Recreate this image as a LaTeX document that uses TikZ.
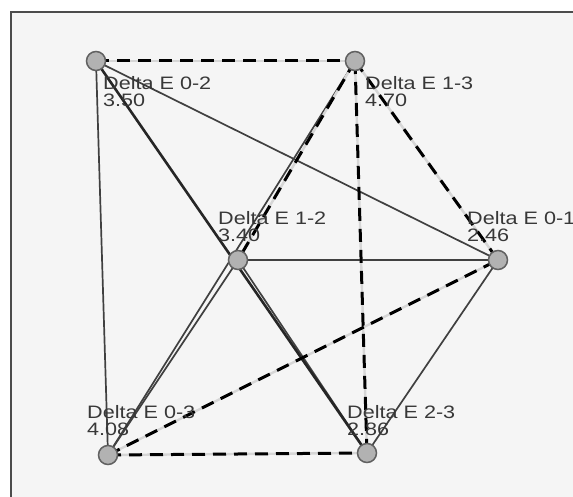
\documentclass[tikz,border=0pt]{standalone}
\usepackage{fontspec}
\setmainfont{Liberation Sans}
\newfontfamily\lblfont[FakeStretch=1.2]{Liberation Sans}
\begin{document}
\begin{tikzpicture}[x=1pt,y=-1pt,
  vert/.style={circle,fill=black!30,draw=black!62,line width=1.5pt,minimum size=19pt,inner sep=0pt},
  solidedge/.style={draw=black!75,line width=1.7pt},
  heavyedge/.style={draw=black!85,line width=2.6pt},
  dashedge/.style={draw=black!16,line width=2.4pt,postaction={draw=black,line width=3pt,dash pattern=on 13pt off 8pt}},
  lbl/.style={anchor=west,inner sep=0pt,text=black!78,align=left,font=\lblfont\fontsize{18pt}{17pt}\selectfont}]
\useasboundingbox (0,0) rectangle (573,497);
\fill[white] (0,0) rectangle (573,497);
\begin{scope}
\clip (0,0) rectangle (573,497);
\draw[fill=black!4,draw=black!70,line width=2pt] (11,12) rectangle (620,540);
\end{scope}
\coordinate (p0) at (96,61);
\coordinate (p1) at (355,61);
\coordinate (p2) at (238,260);
\coordinate (p3) at (498,260);
\coordinate (p4) at (108,455);
\coordinate (p5) at (367,453);
% solid edges
\draw[solidedge] (p0) -- (p4);
\draw[solidedge] (p0) -- (p3);
\draw[solidedge] (p1) -- (p4);
\draw[solidedge] (p2) -- (p3);
\draw[solidedge] (p2) -- (p4);
\draw[solidedge] (p2) -- (p5);
\draw[solidedge] (p3) -- (p5);
\draw[heavyedge] (p0) -- (p5);
% dashed edges
\draw[dashedge] (p0) -- (p1);
\draw[dashedge] (p1) -- (p2);
\draw[dashedge] (p1) -- (p3);
\draw[dashedge] (p1) -- (p5);
\draw[dashedge] (p4) -- (p3);
\draw[dashedge] (p4) -- (p5);
% vertices
\node[vert] (n0) at (p0) {};
\node[vert] (n1) at (p1) {};
\node[vert] (n2) at (p2) {};
\node[vert] (n3) at (p3) {};
\node[vert] (n4) at (p4) {};
\node[vert] (n5) at (p5) {};
% labels
\node[lbl] (l0) at (103,92) {Delta E 0-2\\3.50};
\node[lbl] (l1) at (365,92) {Delta E 1-3\\4.70};
\node[lbl] (l2) at (218,227) {Delta E 1-2\\3.40};
\node[lbl] (l3) at (467,227) {Delta E 0-1\\2.46};
\node[lbl] (l4) at (87,421) {Delta E 0-3\\4.08};
\node[lbl] (l5) at (347,421) {Delta E 2-3\\2.86};
\end{tikzpicture}
\end{document}
